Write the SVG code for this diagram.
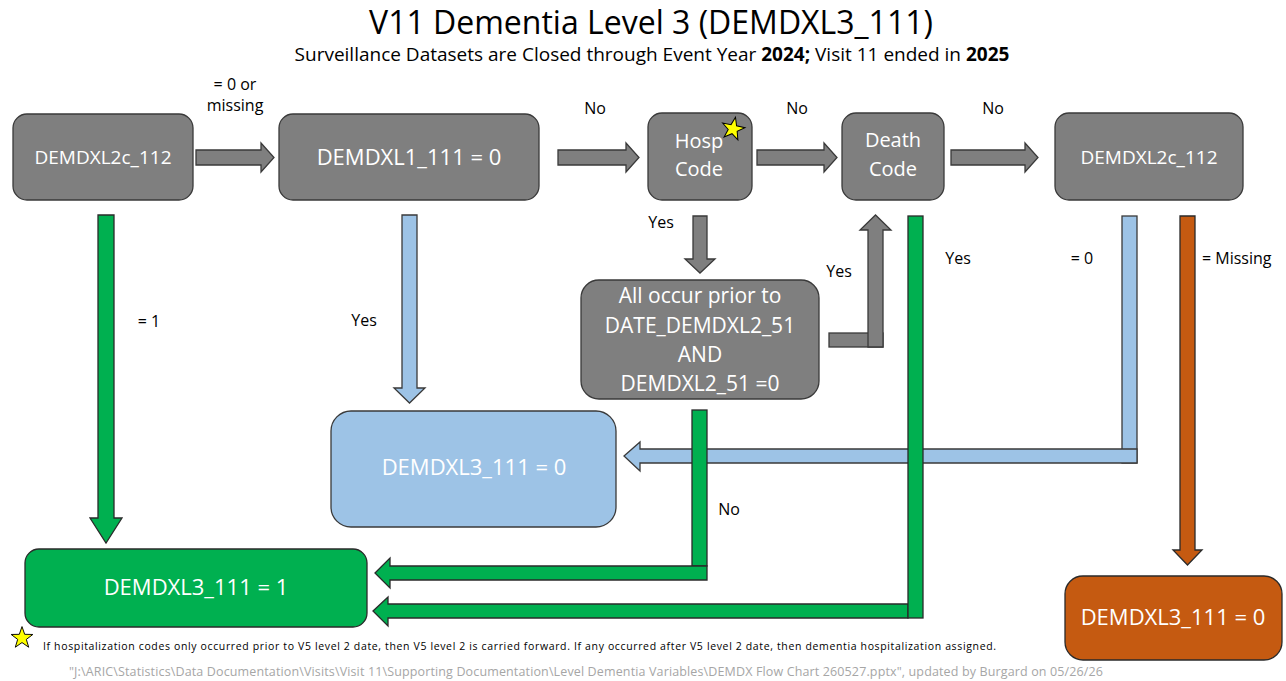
<svg xmlns="http://www.w3.org/2000/svg" width="1286" height="681" viewBox="0 0 1286 681">
<style>
text{font-family:"Open Sans","Liberation Sans",sans-serif}
.t{fill:#000}
.nt{fill:#ffffff;text-anchor:middle}
.lb{fill:#000;font-size:16px;text-anchor:middle}
.lbs{fill:#000;font-size:16px;text-anchor:start}
.gray{fill:#7f7f7f;stroke:#3a3a3a;stroke-width:1.3}
.blue{fill:#9dc3e6;stroke:#3a3a3a;stroke-width:1.3}
.green{fill:#00b050;stroke:#2a2a2a;stroke-width:1.3}
.orange{fill:#c55a11;stroke:#2a2a2a;stroke-width:1.3}
.star{fill:#ffff00;stroke:#000;stroke-width:1}
</style>
<defs>
<polygon id="starShape" points="0,-12 2.82,-3.88 11.41,-3.71 4.57,1.48 7.05,9.71 0,4.8 -7.05,9.71 -4.57,1.48 -11.41,-3.71 -2.82,-3.88"/>
</defs>
<rect width="1286" height="681" fill="#ffffff"/>
<g id="title">
<text x="651" y="34" font-size="32" text-anchor="middle" class="t">V11 Dementia Level 3 (DEMDXL3_111)</text>
<text x="652" y="61" font-size="19" text-anchor="middle" class="t">Surveillance Datasets are Closed through Event Year <tspan font-weight="bold">2024;</tspan> Visit 11 ended in <tspan font-weight="bold">2025</tspan></text>
</g>
<g id="connectors">
<polygon class="gray" points="196,150 261,150 261,143 274,157.5 261,172 261,165 196,165"/>
<polygon class="gray" points="558,150 626,150 626,143 639,157.5 626,172 626,165 558,165"/>
<polygon class="gray" points="757,150 824,150 824,143 837,157.5 824,172 824,165 757,165"/>
<polygon class="gray" points="951,150 1025,150 1025,143 1038,157.5 1025,172 1025,165 951,165"/>
<polygon class="gray" points="693,216 707,216 707,259 715,259 700,273 685,259 693,259"/>
<rect class="gray" x="829" y="333" width="54" height="14"/>
<polygon class="gray" points="868,347 883,347 883,230 891,230 875.5,215 860,230 868,230"/>
<polygon class="green" points="98,215 114,215 114,518 122,518 106,543 90,518 98,518"/>
<polygon class="blue" points="402,215 417,215 417,388 425,388 409.5,403 394,388 402,388"/>
<rect class="blue" x="1122" y="216" width="15" height="247"/>
<polygon class="blue" points="624,456 640,442 640,449 1137,449 1137,463 640,463 640,471"/>
<rect class="green" x="692" y="410" width="15" height="156"/>
<polygon class="green" points="375,573 390,558 390,566 707,566 707,580 390,580 390,588"/>
<polygon class="green" points="373,611 388,597 388,604 908,604 908,618 388,618 388,626"/>
<rect class="green" x="908" y="216" width="15" height="402"/>
<polygon class="orange" points="1180,216 1195,216 1195,550 1202,550 1187.5,565 1173,550 1180,550"/>
<text class="lb" x="235" y="90">= 0 or</text>
<text class="lb" x="235" y="111">missing</text>
<text class="lb" x="595" y="114">No</text>
<text class="lb" x="797" y="114">No</text>
<text class="lb" x="993" y="114">No</text>
<text class="lb" x="661" y="228">Yes</text>
<text class="lb" x="839" y="277">Yes</text>
<text class="lb" x="958" y="264">Yes</text>
<text class="lb" x="1082" y="264">= 0</text>
<text class="lbs" x="1202" y="264">= Missing</text>
<text class="lb" x="149" y="327">= 1</text>
<text class="lb" x="364" y="326">Yes</text>
<text class="lb" x="729" y="515">No</text>
</g>
<g id="n_l2c_left">
<rect class="gray" x="13" y="114" width="180" height="86" rx="14"/>
<text class="nt" x="103" y="164" font-size="19">DEMDXL2c_112</text>
</g>
<g id="n_l1">
<rect class="gray" x="279" y="114" width="260" height="86" rx="14"/>
<text class="nt" x="409" y="165" font-size="22">DEMDXL1_111 = 0</text>
</g>
<g id="n_hosp">
<rect class="gray" x="648" y="113" width="104" height="87" rx="14"/>
<text class="nt" x="699" y="148" font-size="20">Hosp</text>
<text class="nt" x="699" y="176" font-size="20">Code</text>
<use href="#starShape" class="star" transform="translate(733,129) rotate(12)"/>
</g>
<g id="n_death">
<rect class="gray" x="842" y="113" width="102" height="87" rx="14"/>
<text class="nt" x="893" y="147" font-size="20">Death</text>
<text class="nt" x="893" y="176" font-size="20">Code</text>
</g>
<g id="n_l2c_right">
<rect class="gray" x="1055" y="113" width="188" height="87" rx="14"/>
<text class="nt" x="1149" y="164" font-size="19">DEMDXL2c_112</text>
</g>
<g id="n_prior">
<rect class="gray" x="581" y="280" width="238" height="119" rx="18"/>
<text class="nt" x="700" y="303" font-size="21">All occur prior to</text>
<text class="nt" x="700" y="333" font-size="21">DATE_DEMDXL2_51</text>
<text class="nt" x="700" y="362" font-size="21">AND</text>
<text class="nt" x="700" y="391" font-size="21">DEMDXL2_51 =0</text>
</g>
<g id="n_l3_zero_blue">
<rect class="blue" x="331" y="411" width="285" height="116" rx="20"/>
<text class="nt" x="474" y="475" font-size="22">DEMDXL3_111 = 0</text>
</g>
<g id="n_l3_one">
<rect class="green" x="25" y="549" width="342" height="78" rx="14"/>
<text class="nt" x="196" y="595" font-size="22">DEMDXL3_111 = 1</text>
</g>
<g id="n_l3_zero_orange">
<rect class="orange" x="1065" y="576" width="217" height="84" rx="18"/>
<text class="nt" x="1173" y="625" font-size="22">DEMDXL3_111 = 0</text>
</g>
<g id="footnote">
<use href="#starShape" class="star" transform="translate(22,638) scale(0.95)"/>
<text x="43" y="650" font-size="10.5" textLength="953" class="t">If hospitalization codes only occurred prior to V5 level 2 date, then V5 level 2 is carried forward. If any occurred after V5 level 2 date, then dementia hospitalization assigned.</text>
<text x="69" y="676" font-size="12.5" textLength="1034" fill="#a6a6a6">"J:\ARIC\Statistics\Data Documentation\Visits\Visit 11\Supporting Documentation\Level Dementia Variables\DEMDX Flow Chart 260527.pptx", updated by Burgard on 05/26/26</text>
</g>
</svg>
